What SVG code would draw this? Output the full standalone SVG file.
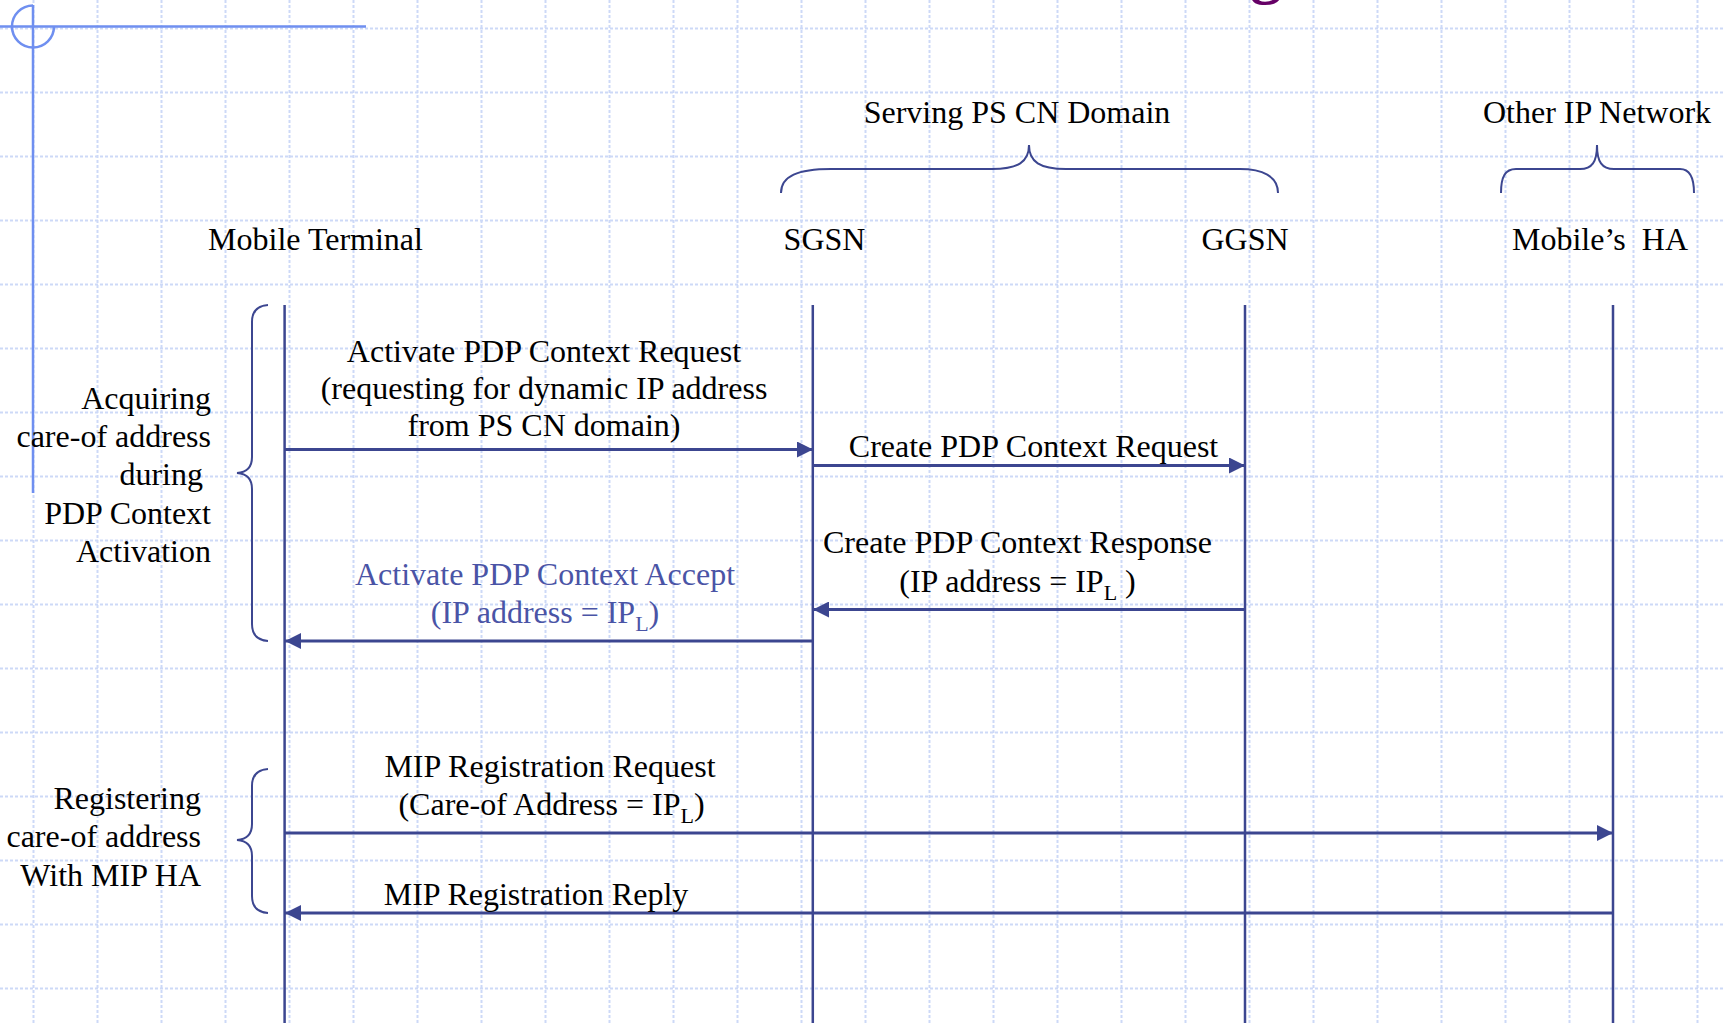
<svg xmlns="http://www.w3.org/2000/svg" width="1723" height="1023" viewBox="0 0 1723 1023">
<style>
.grid{fill:none;stroke:#cdd9f7;stroke-width:2;stroke-dasharray:3 2}
.deco{fill:none;stroke:#6f8ff0;stroke-width:2.5}
.life{fill:none;stroke:#3c4690;stroke-width:2.5}
.msg{fill:none;stroke:#3c4690;stroke-width:3;marker-end:url(#ah)}
.brace{fill:none;stroke:#3c4690;stroke-width:2}
text{font-family:"Liberation Serif","Times New Roman",serif;font-size:32px;fill:#000}
.c{text-anchor:middle}
.e{text-anchor:end}
.blue{fill:#4a54a6}
.sub{font-size:22px}
</style>
<defs>
<marker id="ah" markerUnits="userSpaceOnUse" markerWidth="16" markerHeight="16" refX="16" refY="8" orient="auto" viewBox="0 0 16 16">
<path d="M0,0 L16,8 L0,16 z" fill="#3c4690"/>
</marker>
</defs>
<rect width="1723" height="1023" fill="#fff"/>
<path class="grid" d="M33.5,0V1023M97.5,0V1023M161.5,0V1023M225.5,0V1023M289.5,0V1023M353.5,0V1023M417.5,0V1023M481.5,0V1023M545.5,0V1023M609.5,0V1023M673.5,0V1023M737.5,0V1023M801.5,0V1023M865.5,0V1023M929.5,0V1023M993.5,0V1023M1057.5,0V1023M1121.5,0V1023M1185.5,0V1023M1249.5,0V1023M1313.5,0V1023M1377.5,0V1023M1441.5,0V1023M1505.5,0V1023M1569.5,0V1023M1633.5,0V1023M1697.5,0V1023M0,28.5H1723M0,92.5H1723M0,156.5H1723M0,220.5H1723M0,284.5H1723M0,348.5H1723M0,412.5H1723M0,476.5H1723M0,540.5H1723M0,604.5H1723M0,668.5H1723M0,732.5H1723M0,796.5H1723M0,860.5H1723M0,924.5H1723M0,988.5H1723"/>
<g id="decoration">
<path class="deco" d="M0,26.5H366M33,5V493"/>
<path class="deco" d="M33,5.5A21,21 0 1 0 54,26.5"/>
<text x="1266" y="-9" style="font-family:'Liberation Serif','Times New Roman',serif;font-weight:bold;font-size:64px;fill:#660066;text-anchor:middle">g</text>
</g>
<g id="domain-serving">
<path class="brace" d="M781,193C781,176 798,169 831,169H992C1018,169 1029,162 1029,145C1029,162 1040,169 1066,169H1240C1262,169 1278,176 1278,193"/>
<text class="c" x="1017" y="123">Serving PS CN Domain</text>
</g>
<g id="domain-other">
<path class="brace" d="M1501,193C1501,177 1505,169 1516,169H1580C1592,169 1597,162 1597,145C1597,162 1602,169 1614,169H1680C1690,169 1694,177 1694,193"/>
<text class="c" x="1597" y="123">Other IP Network</text>
</g>
<g id="mobile-terminal">
<text class="c" x="315.5" y="250">Mobile Terminal</text>
<path class="life" d="M284.6,305V1023"/>
</g>
<g id="sgsn">
<text class="c" x="824.5" y="250">SGSN</text>
<path class="life" d="M812.8,305V1023"/>
</g>
<g id="ggsn">
<text class="c" x="1245" y="250">GGSN</text>
<path class="life" d="M1245,305V1023"/>
</g>
<g id="mobile-ha">
<text class="c" x="1600" y="250" xml:space="preserve">Mobile’s  HA</text>
<path class="life" d="M1613,305V1023"/>
</g>
<g id="phase-acquiring">
<path class="brace" d="M268,305Q252,306 252,322V457Q252,472 237,473Q252,474 252,489V624Q252,640 268,641"/>
<text class="e" x="211" y="408.5">Acquiring</text>
<text class="e" x="211" y="447">care-of address</text>
<text class="e" x="203" y="485">during</text>
<text class="e" x="211" y="523.5">PDP Context</text>
<text class="e" x="211" y="562">Activation</text>
</g>
<g id="phase-registering">
<path class="brace" d="M268,769Q252,770 252,786V824Q252,839 237,840Q252,841 252,856V896Q252,912 268,913"/>
<text class="e" x="201" y="808.5">Registering</text>
<text class="e" x="201" y="847">care-of address</text>
<text class="e" x="201" y="886">With MIP HA</text>
</g>
<g id="connectors">
<path class="msg" d="M285,449.5H813"/>
<path class="msg" d="M813,465.5H1245"/>
<path class="msg" d="M1245,609.5H813"/>
<path class="msg" d="M813,641H285"/>
<path class="msg" d="M285,833H1613"/>
<path class="msg" d="M1613,913H285"/>
</g>
<g id="labels">
<text class="c" x="544" y="362">Activate PDP Context Request</text>
<text class="c" x="544" y="398.5">(requesting for dynamic IP address</text>
<text class="c" x="544" y="436">from PS CN domain)</text>
<text class="c" x="1033.5" y="457">Create PDP Context Request</text>
<text class="c" x="1017.5" y="553">Create PDP Context Response</text>
<text class="c" x="1017.5" y="591.5" xml:space="preserve">(IP address = IP<tspan class="sub" dy="8">L</tspan><tspan dy="-8"> )</tspan></text>
<text class="c blue" x="545" y="584.5">Activate PDP Context Accept</text>
<text class="c blue" x="545" y="623">(IP address = IP<tspan class="sub" dy="8">L</tspan><tspan dy="-8">)</tspan></text>
<text class="c" x="550" y="777">MIP Registration Request</text>
<text class="c" x="551.5" y="815">(Care-of Address = IP<tspan class="sub" dy="8">L</tspan><tspan dy="-8">)</tspan></text>
<text class="c" x="536" y="905">MIP Registration Reply</text>
</g>
</svg>
